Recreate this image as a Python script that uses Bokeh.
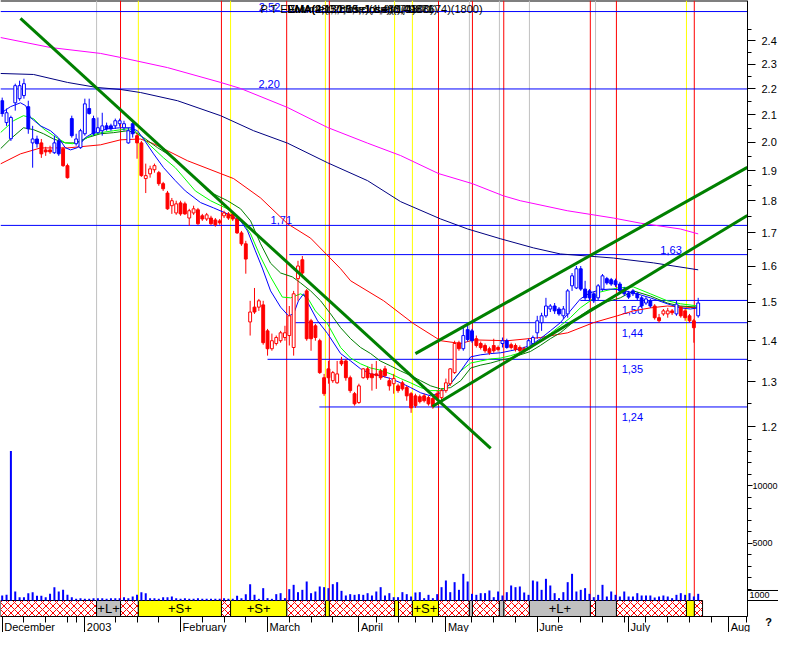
from bokeh.plotting import figure
from bokeh.models import (Range1d, LinearScale, LinearAxis, LogAxis, FixedTicker,
                          NumeralTickFormatter, BasicTickFormatter)
from bokeh.embed import file_html
from bokeh.resources import INLINE
from bokeh.core.properties import value

FONT = "Liberation Sans"

# ---------------- data (trading-day index 0 = 2 Dec 2002) ----------------
opens = [2.154, 2.071, 2.012, 2.146, 2.162, 2.174, 2.131, 1.997, 2.011, 1.997,
         1.972, 1.972, 1.962, 2.004, 1.976, 1.917, 2.086, 1.994, 1.980, 2.030,
         2.124, 2.086, 2.034, 2.041, 2.059, 2.059, 2.059, 2.067, 2.052, 1.997,
         2.067, 2.023, 1.997, 1.873, 1.889, 1.903, 1.893, 1.856, 1.825, 1.784,
         1.761, 1.793, 1.790, 1.745, 1.761, 1.771, 1.752, 1.742, 1.745, 1.739,
         1.736, 1.752, 1.758, 1.758, 1.742, 1.699, 1.666, 1.448, 1.487, 1.487,
         1.493, 1.425, 1.380, 1.393, 1.400, 1.408, 1.413, 1.383, 1.565, 1.619,
         1.531, 1.451, 1.438, 1.400, 1.310, 1.331, 1.303, 1.298, 1.350, 1.350,
         1.310, 1.273, 1.253, 1.310, 1.331, 1.319, 1.319, 1.326, 1.331, 1.303,
         1.296, 1.291, 1.298, 1.287, 1.273, 1.268, 1.266, 1.268, 1.264, 1.262,
         1.273, 1.264, 1.280, 1.296, 1.322, 1.395, 1.380, 1.428, 1.425, 1.405,
         1.393, 1.388, 1.380, 1.388, 1.383, 1.393, 1.400, 1.390, 1.388, 1.383,
         1.380, 1.383, 1.393, 1.420, 1.446, 1.464, 1.482, 1.490, 1.482, 1.464,
         1.469, 1.545, 1.539, 1.593, 1.536, 1.531, 1.523, 1.512, 1.536, 1.565,
         1.562, 1.559, 1.550, 1.536, 1.525, 1.531, 1.523, 1.512, 1.498, 1.504,
         1.490, 1.459, 1.469, 1.469, 1.477, 1.469, 1.487, 1.477, 1.464, 1.451,
         1.464]
highs = [2.166, 2.124, 2.097, 2.221, 2.233, 2.241, 2.154, 2.059, 2.023, 2.011,
         1.983, 1.987, 2.023, 2.011, 1.983, 1.924, 2.097, 2.030, 2.048, 2.162,
         2.162, 2.097, 2.090, 2.108, 2.071, 2.067, 2.086, 2.086, 2.078, 2.052,
         2.075, 2.034, 2.004, 1.924, 1.917, 1.924, 1.899, 1.862, 1.832, 1.809,
         1.800, 1.800, 1.797, 1.774, 1.784, 1.777, 1.758, 1.761, 1.752, 1.745,
         1.742, 1.768, 1.764, 1.764, 1.749, 1.705, 1.675, 1.504, 1.539, 1.509,
         1.504, 1.430, 1.418, 1.413, 1.425, 1.438, 1.490, 1.531, 1.616, 1.630,
         1.536, 1.456, 1.443, 1.405, 1.319, 1.350, 1.326, 1.350, 1.360, 1.355,
         1.315, 1.277, 1.296, 1.333, 1.336, 1.343, 1.350, 1.331, 1.338, 1.310,
         1.319, 1.296, 1.303, 1.291, 1.277, 1.273, 1.271, 1.273, 1.268, 1.266,
         1.280, 1.284, 1.308, 1.333, 1.400, 1.400, 1.433, 1.443, 1.430, 1.413,
         1.398, 1.393, 1.385, 1.405, 1.388, 1.408, 1.405, 1.395, 1.393, 1.388,
         1.385, 1.405, 1.413, 1.464, 1.472, 1.512, 1.495, 1.498, 1.487, 1.490,
         1.536, 1.581, 1.601, 1.601, 1.559, 1.536, 1.528, 1.550, 1.578, 1.570,
         1.567, 1.565, 1.556, 1.542, 1.531, 1.536, 1.528, 1.517, 1.514, 1.509,
         1.495, 1.469, 1.482, 1.485, 1.482, 1.504, 1.490, 1.482, 1.469, 1.456,
         1.512]
lows = [2.093, 2.059, 2.004, 2.116, 2.154, 2.162, 2.030, 1.910, 1.980, 1.944,
        1.951, 1.958, 1.958, 1.951, 1.913, 1.873, 2.016, 1.987, 1.976, 2.023,
        2.101, 2.023, 2.030, 2.023, 2.041, 2.041, 2.048, 2.056, 2.041, 1.994,
        2.016, 1.941, 1.879, 1.825, 1.876, 1.893, 1.849, 1.832, 1.771, 1.758,
        1.755, 1.752, 1.755, 1.721, 1.755, 1.724, 1.736, 1.736, 1.724, 1.718,
        1.724, 1.745, 1.739, 1.736, 1.696, 1.660, 1.579, 1.413, 1.469, 1.477,
        1.390, 1.363, 1.375, 1.388, 1.395, 1.400, 1.388, 1.363, 1.504, 1.573,
        1.400, 1.375, 1.400, 1.319, 1.268, 1.296, 1.298, 1.296, 1.338, 1.303,
        1.275, 1.246, 1.250, 1.308, 1.305, 1.280, 1.284, 1.305, 1.310, 1.280,
        1.273, 1.275, 1.280, 1.257, 1.230, 1.241, 1.251, 1.253, 1.246, 1.239,
        1.257, 1.257, 1.275, 1.291, 1.319, 1.375, 1.375, 1.398, 1.395, 1.383,
        1.378, 1.370, 1.365, 1.370, 1.373, 1.383, 1.380, 1.378, 1.373, 1.370,
        1.370, 1.380, 1.388, 1.405, 1.425, 1.459, 1.474, 1.469, 1.464, 1.456,
        1.459, 1.531, 1.536, 1.531, 1.504, 1.506, 1.498, 1.506, 1.531, 1.548,
        1.545, 1.542, 1.525, 1.517, 1.509, 1.517, 1.506, 1.485, 1.493, 1.485,
        1.454, 1.446, 1.464, 1.459, 1.466, 1.464, 1.459, 1.451, 1.446, 1.395,
        1.459]
closes = [2.105, 2.108, 2.090, 2.213, 2.213, 2.221, 2.048, 2.011, 1.994, 1.958,
          1.965, 1.965, 1.997, 1.958, 1.917, 1.876, 2.023, 2.011, 2.041, 2.142,
          2.105, 2.030, 2.052, 2.059, 2.048, 2.048, 2.078, 2.078, 2.067, 2.041,
          2.030, 1.997, 1.883, 1.883, 1.906, 1.917, 1.856, 1.839, 1.774, 1.800,
          1.790, 1.758, 1.758, 1.768, 1.774, 1.727, 1.742, 1.755, 1.727, 1.724,
          1.730, 1.761, 1.745, 1.742, 1.699, 1.666, 1.621, 1.474, 1.474, 1.504,
          1.395, 1.380, 1.400, 1.408, 1.420, 1.420, 1.464, 1.523, 1.601, 1.581,
          1.405, 1.405, 1.408, 1.322, 1.273, 1.310, 1.322, 1.319, 1.343, 1.310,
          1.280, 1.250, 1.291, 1.331, 1.310, 1.310, 1.315, 1.310, 1.315, 1.291,
          1.308, 1.280, 1.284, 1.268, 1.241, 1.246, 1.255, 1.257, 1.250, 1.244,
          1.262, 1.280, 1.298, 1.331, 1.393, 1.380, 1.413, 1.403, 1.400, 1.388,
          1.383, 1.375, 1.370, 1.375, 1.378, 1.400, 1.383, 1.383, 1.378, 1.375,
          1.375, 1.400, 1.408, 1.451, 1.464, 1.490, 1.490, 1.477, 1.469, 1.482,
          1.531, 1.573, 1.593, 1.536, 1.512, 1.512, 1.504, 1.545, 1.573, 1.553,
          1.550, 1.548, 1.531, 1.523, 1.514, 1.523, 1.512, 1.490, 1.509, 1.490,
          1.459, 1.451, 1.477, 1.477, 1.472, 1.495, 1.464, 1.459, 1.451, 1.433,
          1.498]
# b = blue candle, r = red candle
candle_kind = ("bbbbbbbbb" "rrr" "bb" "rr" "bbbbbbbbbbbbbbb"
               "rrrrrrrrrrrrrrrrrrrrrrrrrrrrrrrrrrrrrrrrrrrrrrrrrrrrrrrrrrrrrrrrrrrrrrrrrrr"
               "bbb" "rrrrrr" "bb" "rrrr" "bbbbbbbbbbbbbbbbbbbbbbbbbbbbb" "rrrrr" "b" "rrrr" "b")
volumes = [435, 493, 13000, 783, 290, 290, 638, 725, 406, 406,
           290, 580, 1160, 783, 928, 493, 290, 145, 203, 145,
           145, 203, 203, 203, 145, 203, 203, 203, 290, 203,
           348, 493, 725, 638, 203, 203, 145, 290, 290, 348,
           203, 145, 203, 145, 145, 203, 145, 145, 145, 145,
           145, 203, 145, 145, 406, 203, 551, 1421, 493, 145,
           1073, 203, 145, 551, 638, 203, 986, 1363, 725, 928,
           1653, 638, 783, 1218, 1160, 1073, 1421, 1595, 841, 435,
           551, 493, 551, 493, 638, 435, 783, 1160, 435, 638,
           290, 290,
           725, 551, 348, 696, 725, 203, 493, 203, 551, 1160,
           1740, 725, 1595, 928, 2320, 1653, 580, 493, 638, 638,
           870, 290, 783, 435, 725, 1305, 1160, 1218, 696, 493,
           1740, 1653, 928, 1885, 1305, 638, 203, 725, 1595, 2320,
           783, 928, 1073, 580, 290, 493, 1363, 348, 783, 493,
           348, 783, 348, 348, 638, 435, 435, 435, 261, 348,
           435, 348, 203, 493, 638, 493, 638, 348, 580]

# moving averages (day index, price)
ma_mag_x = [-0.4, 11.1, 22.6, 27.2, 38.0, 50.2, 54.8, 65.6, 74.8, 84.0, 91.6, 100.3,
            108.1, 115.2, 119.1, 129.9, 140.5, 146.7, 155.9, 160.0]
ma_mag_y = [2.413, 2.370, 2.345, 2.328, 2.286, 2.226, 2.202, 2.128, 2.053, 1.996, 1.952,
            1.890, 1.856, 1.816, 1.800, 1.768, 1.745, 1.729, 1.711, 1.696]
ma_navy_x = [-0.4, 7.2, 15.0, 21.7, 27.2, 31.8, 40.3, 50.2, 57.8, 65.6, 74.8, 84.0, 91.6,
             100.8, 107.0, 114.6, 122.1, 128.3, 134.5, 140.5, 149.7, 160.0]
ma_navy_y = [2.262, 2.258, 2.226, 2.206, 2.198, 2.186, 2.154, 2.097, 2.041, 1.996, 1.927,
             1.866, 1.797, 1.742, 1.711, 1.681, 1.654, 1.636, 1.630, 1.624, 1.610, 1.590]
ma_red_x = [-0.4, 4.2, 8.8, 15.0, 22.6, 27.2, 31.8, 34.8, 42.6, 50.2, 53.2, 59.4, 65.6,
            70.9, 77.8, 80.1, 87.7, 94.5, 100.8, 105.4, 108.4, 116.2, 123.7, 130.0, 135.9,
            141.4, 145.1, 149.0, 152.9, 160.0]
ma_red_y = [1.923, 1.958, 1.979, 1.979, 1.990, 2.008, 2.011, 1.994, 1.934, 1.890, 1.873,
            1.809, 1.727, 1.683, 1.593, 1.559, 1.504, 1.444, 1.400, 1.393, 1.402, 1.400,
            1.408, 1.420, 1.446, 1.464, 1.477, 1.485, 1.490, 1.485]
ma_blue_x = [-0.4, 1.9, 4.2, 5.4, 6.5, 8.8, 11.1, 12.9, 14.5, 15.7, 17.3, 19.1, 21.0, 24.2,
             27.2, 29.5, 31.1, 32.5, 34.8, 37.1, 39.8, 42.1, 45.6, 48.6, 51.8, 54.8, 56.4,
             58.2, 59.8, 61.7, 64.0, 65.8, 67.0, 68.1, 69.3, 70.4, 72.5, 74.8, 77.8, 80.1,
             82.4, 84.7, 86.9, 89.3, 91.6, 93.9, 96.2, 98.5, 100.8, 103.1, 105.4, 107.7,
             110.0, 112.3, 114.6, 116.9, 119.1, 121.4, 123.7, 126.0, 128.3, 130.6, 132.9,
             135.2, 137.5, 139.8, 142.1, 145.1, 149.0, 152.9, 155.9, 158.2, 160.0]
ma_blue_y = [2.105, 2.131, 2.146, 2.135, 2.090, 2.059, 2.041, 2.016, 1.980, 1.972, 1.980,
             2.016, 2.034, 2.048, 2.052, 2.052, 2.041, 2.011, 1.958, 1.910, 1.866, 1.832,
             1.794, 1.777, 1.758, 1.736, 1.705, 1.645, 1.595, 1.531, 1.487, 1.464, 1.469,
             1.504, 1.523, 1.496, 1.451, 1.418, 1.368, 1.350, 1.331, 1.319, 1.315, 1.308,
             1.298, 1.287, 1.275, 1.268, 1.275, 1.296, 1.326, 1.360, 1.365, 1.368, 1.370,
             1.375, 1.380, 1.388, 1.405, 1.425, 1.446, 1.477, 1.509, 1.526, 1.534, 1.536,
             1.534, 1.526, 1.512, 1.496, 1.485, 1.482, 1.485]
ma_lgreen_x = [-0.4, 2.6, 4.9, 7.2, 9.5, 11.8, 14.5, 16.2, 18.0, 20.3, 22.6, 25.6, 28.8,
               30.2, 31.8, 34.1, 37.1, 39.8, 44.4, 47.9, 51.8, 54.8, 57.1, 59.4, 61.7, 64.4,
               66.3, 68.6, 70.2, 72.0, 74.8, 77.8, 80.1, 82.4, 84.7, 86.9, 89.3, 91.6, 93.9,
               96.2, 98.5, 100.8, 103.1, 105.4, 107.7, 110.0, 112.3, 114.6, 116.9, 119.1,
               121.4, 123.7, 126.0, 128.3, 130.6, 132.9, 135.2, 137.5, 141.4, 145.1, 149.0,
               152.9, 155.9, 160.0]
ma_lgreen_y = [2.034, 2.078, 2.097, 2.086, 2.048, 2.023, 1.997, 1.994, 2.001, 2.023, 2.034,
               2.041, 2.048, 2.045, 2.023, 1.987, 1.944, 1.910, 1.832, 1.800, 1.774, 1.742,
               1.696, 1.627, 1.570, 1.514, 1.512, 1.523, 1.512, 1.477, 1.443, 1.383, 1.357,
               1.343, 1.333, 1.328, 1.319, 1.308, 1.298, 1.287, 1.280, 1.280, 1.296, 1.326,
               1.345, 1.350, 1.355, 1.357, 1.363, 1.370, 1.380, 1.400, 1.418, 1.438, 1.459,
               1.485, 1.504, 1.528, 1.539, 1.542, 1.523, 1.504, 1.496, 1.490]
ma_dgreen_x = [-0.4, 1.9, 4.9, 7.2, 9.5, 11.8, 14.5, 16.8, 19.6, 22.6, 25.6, 28.8, 30.6,
               32.5, 35.7, 39.8, 47.2, 51.8, 54.8, 57.1, 59.4, 61.7, 64.0, 66.7, 68.6, 70.9,
               73.2, 75.5, 77.8, 80.1, 82.4, 84.7, 86.9, 89.3, 91.6, 93.9, 96.2, 98.5, 100.8,
               103.1, 105.4, 107.7, 110.0, 112.3, 114.6, 116.9, 119.1, 121.4, 123.7, 126.0,
               128.3, 130.6, 132.9, 135.2, 137.5, 139.8, 142.1, 145.1, 149.0, 152.9, 155.9,
               160.0]
ma_dgreen_y = [1.976, 2.011, 2.052, 2.045, 2.030, 2.011, 1.997, 1.997, 2.016, 2.030, 2.034,
               2.041, 2.034, 2.016, 1.980, 1.941, 1.832, 1.800, 1.774, 1.736, 1.666, 1.609,
               1.581, 1.570, 1.553, 1.531, 1.504, 1.469, 1.433, 1.405, 1.383, 1.368, 1.350,
               1.338, 1.326, 1.315, 1.303, 1.291, 1.284, 1.287, 1.303, 1.333, 1.340, 1.345,
               1.352, 1.357, 1.365, 1.373, 1.388, 1.405, 1.420, 1.441, 1.464, 1.482, 1.496,
               1.504, 1.512, 1.531, 1.517, 1.498, 1.490, 1.487]

# trend lines (day index, price)
trend_down_x = [4.2, 112.3]
trend_down_y = [2.497, 1.154]
chan_up_x = [95.0, 171.3]
chan_up_y = [1.368, 1.911]
chan_lo_x = [98.9, 171.3]
chan_lo_y = [1.244, 1.753]

# horizontal support / resistance levels
levels = [2.528, 2.20, 1.722, 1.634, 1.505, 1.446, 1.354, 1.243]
level_text = ["2,52", "2,20", "1,71", "1,63", "1,50", "1,44", "1,35", "1,24"]
level_from = [None, None, None, 66.0, 132.9, 67.4, 61.0, 72.9]
level_label_x = [59.0, 58.9, 61.7, 151.3, 142.4, 142.4, 142.4, 142.4]
level_label_above = [True, True, True, True, False, False, False, False]

# signal markers
sig_red = [27.2, 50.4, 65.4, 75.2, 100.3, 108.1, 115.3, 135.2, 141.2, 159.1]
sig_yellow = [31.3, 52.5, 74.3, 90.2, 94.3, 157.3]
sig_gray = [21.7, 107.4, 114.3, 121.2, 136.4]
strip_bounds = [-0.4, 21.7, 27.2, 31.3, 50.4, 52.5, 65.4, 74.3, 75.2, 90.2, 91.1, 94.3,
                100.3, 107.4, 108.1, 114.3, 115.3, 121.2, 135.2, 136.4, 141.2, 157.3,
                159.1, 161.0]
strip_kind = ["x", "L", "x", "S", "x", "S", "x", "S", "x", "S", "x", "S", "x", "L", "x",
              "L", "x", "L", "x", "L", "x", "S", "x"]

# axes
price_ticks = [1.2, 1.3, 1.4, 1.5, 1.6, 1.7, 1.8, 1.9, 2.0, 2.1, 2.2, 2.3, 2.4]
price_minor = [1.25, 1.35, 1.45, 1.55, 1.65, 1.75, 1.85, 1.95, 2.05, 2.15, 2.25, 2.35, 2.45]
vol_ticks = [5000, 10000]
vol_minor = [1000, 2000, 3000, 4000, 6000, 7000, 8000, 9000, 11000, 12000, 13000, 14000]
month_idx = [0, 19, 41, 61, 82, 102, 123, 144, 167]
month_names = ["December", "2003", "February", "March", "April", "May", "June", "July", "Aug"]
week_idx = [5, 10, 15, 17, 26, 31, 36, 46, 51, 56, 66, 71, 76, 86, 91, 95, 99, 108,
            113, 118, 128, 133, 138, 143, 148, 153, 158, 163, 171]
vol_box_text = "1000"

header_texts = ["P T E V", "EMA(4;1,2850;close)(1,49871)", "EMA(2;13;close)(1,48871)",
                "EMA(28;50;0;tr;1;d;e)(1,4800)", "Volume(0;1;15;close;tr)(0188674)(1800)"]

# ---------------- layout (the frame is the whole canvas) ----------------
AXIS_X = 171.33          # day-index where the right-hand axis sits
x_range = Range1d(-0.39, 178.46)
y_range = Range1d(0.8291, 2.5787)          # log price
vol_range = Range1d(-2782.6, 52173.9)      # linear volume
STRIP_BOTTOM = -1391.3                     # bottom of the signal strip / date axis line
PRICE_AT_STRIP_BOTTOM = 0.8533
LABEL_Y = -2347.8                          # baseline of the month names
QMARK_Y = -1900.0
HEADER_Y = 2.565

p = figure(width=778, height=632, x_range=x_range, y_range=y_range,
           y_axis_type="log", x_axis_location=None, y_axis_location=None,
           output_backend="svg", toolbar_location=None, tools="",
           min_border_left=0, min_border_top=0, min_border_right=0, min_border_bottom=0,
           background_fill_color="white", border_fill_color="white")
p.extra_y_ranges = {"vol": vol_range}
p.extra_y_scales = {"vol": LinearScale()}
p.grid.visible = False
p.outline_line_color = None

days = list(range(len(closes)))
ccol = ["#0000FF" if k == "b" else "#FF0000" for k in candle_kind]

# top border
p.segment(x0=x_range.start, y0=y_range.end, x1=AXIS_X, y1=y_range.end,
          line_color="black", line_width=2)

# strip of signals
kind_fill = {"x": "white", "S": "#FFFF00", "L": "#C0C0C0"}
for kind in ("x", "S", "L"):
    ls = [strip_bounds[i] for i, k in enumerate(strip_kind) if k == kind]
    rs = [strip_bounds[i + 1] for i, k in enumerate(strip_kind) if k == kind]
    kw = dict(hatch_pattern="x", hatch_color="#FF0000", hatch_scale=7, hatch_weight=1) if kind == "x" else {}
    p.quad(left=ls, right=rs, bottom=STRIP_BOTTOM, top=0, fill_color=kind_fill[kind],
           line_color="black", line_width=1, y_range_name="vol", **kw)
lab_x, lab_t = [], []
for i, k in enumerate(strip_kind):
    if k != "x" and strip_bounds[i + 1] - strip_bounds[i] > 5:
        lab_x.append((strip_bounds[i] + strip_bounds[i + 1]) / 2)
        lab_t.append("+%s+" % k)
p.text(x=lab_x, y=[STRIP_BOTTOM / 2] * len(lab_x), text=lab_t, y_range_name="vol",
       text_align="center", text_baseline="middle", text_font=value(FONT),
       text_font_size="13px", text_color="black")

# vertical signal lines
for xs, col in ((sig_gray, "#C0C0C0"), (sig_yellow, "#FFFF00"), (sig_red, "#FF0000")):
    p.segment(x0=xs, y0=0, x1=xs, y1=vol_range.end, line_color=col, line_width=1,
              y_range_name="vol")

# horizontal levels
lx0 = [x_range.start if f is None else f for f in level_from]
p.segment(x0=lx0, y0=levels, x1=AXIS_X, y1=levels, line_color="#0000FF", line_width=1)
ab = [i for i, a in enumerate(level_label_above) if a]
be = [i for i, a in enumerate(level_label_above) if not a]
p.text(x=[level_label_x[i] for i in ab], y=[levels[i] for i in ab], text=[level_text[i] for i in ab],
       text_baseline="bottom", text_align="left", y_offset=-1, text_color="#0000FF",
       text_font=value(FONT), text_font_size="11px")
p.text(x=[level_label_x[i] for i in be], y=[levels[i] for i in be], text=[level_text[i] for i in be],
       text_baseline="top", text_align="left", y_offset=6, text_color="#0000FF",
       text_font=value(FONT), text_font_size="11px")

# long moving averages
p.line(ma_mag_x, ma_mag_y, line_color="#FF00FF", line_width=1)
p.line(ma_navy_x, ma_navy_y, line_color="#000080", line_width=1)
p.line(ma_red_x, ma_red_y, line_color="#FF0000", line_width=1)

# volume
p.vbar(x=days, width=0.46, top=volumes, bottom=0, fill_color="#0000FF", line_color=None,
       y_range_name="vol")

# short moving averages
p.line(ma_dgreen_x, ma_dgreen_y, line_color="#008000", line_width=1)
p.line(ma_lgreen_x, ma_lgreen_y, line_color="#00FF00", line_width=1)
p.line(ma_blue_x, ma_blue_y, line_color="#0000FF", line_width=1)

# candles
tops = [max(o, c) for o, c in zip(opens, closes)]
bots = [min(o, c) for o, c in zip(opens, closes)]
fills = [col if c < o else "white" for col, o, c in zip(ccol, opens, closes)]
p.segment(x0=days, y0=lows, x1=days, y1=highs, line_color=ccol, line_width=1)
p.vbar(x=days, width=0.66, top=tops, bottom=bots, fill_color=fills, line_color=ccol, line_width=1)

# trend lines
for tx, ty in ((trend_down_x, trend_down_y), (chan_up_x, chan_up_y), (chan_lo_x, chan_lo_y)):
    p.line(tx, ty, line_color="#008000", line_width=3)

# header
p.text(x=[59.4, 65.6, 65.6, 65.6, 65.6], y=[HEADER_Y] * 5, text=header_texts,
       text_baseline="top", text_align="left", text_font=value(FONT),
       text_font_size="11px", text_color="black")

# price axis (right)
price_axis = LogAxis(fixed_location=AXIS_X, bounds=(PRICE_AT_STRIP_BOTTOM, y_range.end),
                     ticker=FixedTicker(ticks=price_ticks, minor_ticks=price_minor),
                     formatter=NumeralTickFormatter(format="0.0"),
                     major_tick_out=8, major_tick_in=0, minor_tick_out=4, minor_tick_in=0,
                     major_label_standoff=6, axis_line_color="black",
                     major_label_text_font=FONT, major_label_text_font_size="11px",
                     major_label_text_color="black")
p.add_layout(price_axis, "right")

# volume axis at the same place
vol_axis = LinearAxis(y_range_name="vol", fixed_location=AXIS_X,
                      ticker=FixedTicker(ticks=vol_ticks, minor_ticks=vol_minor),
                      formatter=BasicTickFormatter(use_scientific=False),
                      major_tick_out=5, major_tick_in=0, minor_tick_out=4, minor_tick_in=0,
                      major_label_standoff=0, axis_line_color=None,
                      major_label_text_font=FONT, major_label_text_font_size="9px",
                      major_label_text_color="black")
p.add_layout(vol_axis, "right")

# date axis
date_axis = LinearAxis(y_range_name="vol", fixed_location=STRIP_BOTTOM,
                       bounds=(x_range.start, AXIS_X),
                       ticker=FixedTicker(ticks=month_idx, minor_ticks=week_idx),
                       major_tick_out=16, major_tick_in=0, minor_tick_out=6, minor_tick_in=0,
                       major_label_standoff=0, axis_line_color="black",
                       major_label_overrides={m: "" for m in month_idx},
                       major_label_text_font_size="0px")
p.add_layout(date_axis, "below")

p.text(x=month_idx, y=[LABEL_Y] * len(month_idx), text=month_names, y_range_name="vol",
       x_offset=2, text_align="left", text_baseline="alphabetic", text_font=value(FONT),
       text_font_size="11px", text_color="black")
p.text(x=[176.2], y=[QMARK_Y], text=["?"], y_range_name="vol", text_align="center",
       text_baseline="middle", text_font=value(FONT), text_font_size="11px",
       text_font_style="bold", text_color="black")

# small box with the volume read-out
p.quad(left=[AXIS_X], right=[x_range.end], bottom=[0], top=[870], y_range_name="vol",
       fill_color="white", line_color="black", line_width=1)
p.text(x=[AXIS_X], y=[435], text=[vol_box_text], y_range_name="vol", x_offset=2,
       text_align="left", text_baseline="middle", text_font=value(FONT),
       text_font_size="9px", text_color="black")

open("out.html", "w").write(file_html(p, INLINE))
